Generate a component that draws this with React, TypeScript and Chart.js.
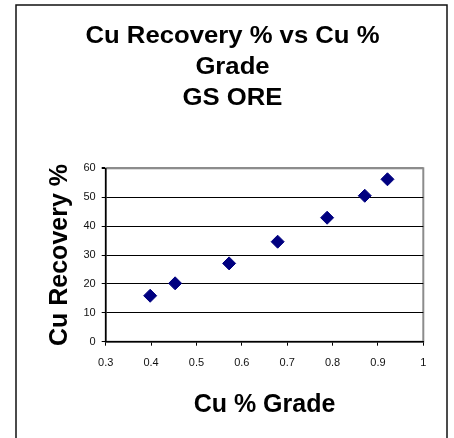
import React, { useEffect, useRef } from "react";
import { Chart, registerables } from "chart.js";

Chart.register(...registerables);

const titleLines = ["Cu Recovery % vs Cu %", "Grade", "GS ORE"];
const xAxisTitle = "Cu % Grade";
const yAxisTitle = "Cu Recovery %";
const cuGrade = [0.398, 0.453, 0.572, 0.679, 0.788, 0.871, 0.921];
const cuRecovery = [15.9, 20.2, 27.1, 34.6, 42.9, 50.5, 56.2];
const xTicks = { min: 0.3, max: 1, step: 0.1 };
const yTicks = { min: 0, max: 60, step: 10 };

const FONT = "'Liberation Sans', Arial, sans-serif";

const framePlugin = {
  id: "frame",
  beforeDraw(chart: any) {
    const { ctx, chartArea } = chart;
    ctx.save();
    ctx.fillStyle = "#fff";
    ctx.fillRect(0, 0, chart.width, chart.height);
    ctx.strokeStyle = "#111";
    ctx.lineWidth = 1.5;
    ctx.strokeRect(16, 5, 431, 500);
    ctx.strokeStyle = "#8c8c8c";
    ctx.lineWidth = 2;
    ctx.strokeRect(chartArea.left, chartArea.top, chartArea.right - chartArea.left, chartArea.bottom - chartArea.top);
    ctx.fillStyle = "#000";
    ctx.font = `bold 24px ${FONT}`;
    ctx.textAlign = "center";
    ctx.textBaseline = "middle";
    titleLines.forEach((t, i) => {
      ctx.save();
      ctx.translate(232.5, 36 + i * 31);
      ctx.scale(1.07, 1);
      ctx.fillText(t, 0, 0);
      ctx.restore();
    });
    ctx.restore();
  },
};

export default function App() {
  const ref = useRef<HTMLCanvasElement>(null);
  useEffect(() => {
    const chart = new Chart(ref.current as HTMLCanvasElement, {
      type: "scatter",
      data: {
        datasets: [
          {
            data: cuGrade.map((x, i) => ({ x, y: cuRecovery[i] })),
            pointStyle: "rectRot",
            pointRadius: 6.5,
            pointBackgroundColor: "#000080",
            pointBorderColor: "#000080",
            pointBorderWidth: 1,
          },
        ],
      },
      plugins: [framePlugin],
      options: {
        animation: false,
        responsive: false,
        layout: { padding: { left: 16, right: 30.7, top: 168.3, bottom: 0 } },
        plugins: { legend: { display: false }, tooltip: { enabled: false }, title: { display: false } },
        scales: {
          x: {
            type: "linear",
            min: xTicks.min,
            max: xTicks.max,
            afterFit: (s: any) => { s.height = 96.3; },
            ticks: {
              stepSize: xTicks.step,
              color: "#111",
              font: { family: FONT, size: 11 },
              padding: 11,
              maxRotation: 0,
              callback: (v: any) => String(Math.round(Number(v) * 10) / 10),
            },
            grid: { drawOnChartArea: false, drawTicks: true, tickLength: 4, tickColor: "#000" },
            border: { display: true, color: "#000", width: 1.5 },
            title: {
              display: true,
              text: xAxisTitle,
              color: "#000",
              font: { family: FONT, size: 25, weight: "bold" },
              padding: { top: 0, bottom: 18 },
            },
          },
          y: {
            type: "linear",
            min: yTicks.min,
            max: yTicks.max,
            afterFit: (s: any) => { s.width = 89.7; },
            ticks: {
              stepSize: yTicks.step,
              color: "#111",
              font: { family: FONT, size: 11 },
              padding: 6,
            },
            grid: {
              drawTicks: true,
              tickLength: 4,
              tickColor: "#000",
              color: (c: any) => (c.tick && c.tick.value === yTicks.max ? "#8c8c8c" : "#000"),
              lineWidth: (c: any) => (c.tick && c.tick.value === yTicks.max ? 2 : 1),
            },
            border: { display: true, color: "#000", width: 1.5 },
            title: {
              display: true,
              text: yAxisTitle,
              color: "#000",
              font: { family: FONT, size: 25, weight: "bold" },
              padding: { top: 29, bottom: 0 },
            },
          },
        },
      },
    } as any);
    return () => chart.destroy();
  }, []);
  return (
    <div style={{ position: "fixed", left: 0, top: 0, width: 454, height: 438 }}>
      <canvas ref={ref} width={454} height={438} />
    </div>
  );
}
